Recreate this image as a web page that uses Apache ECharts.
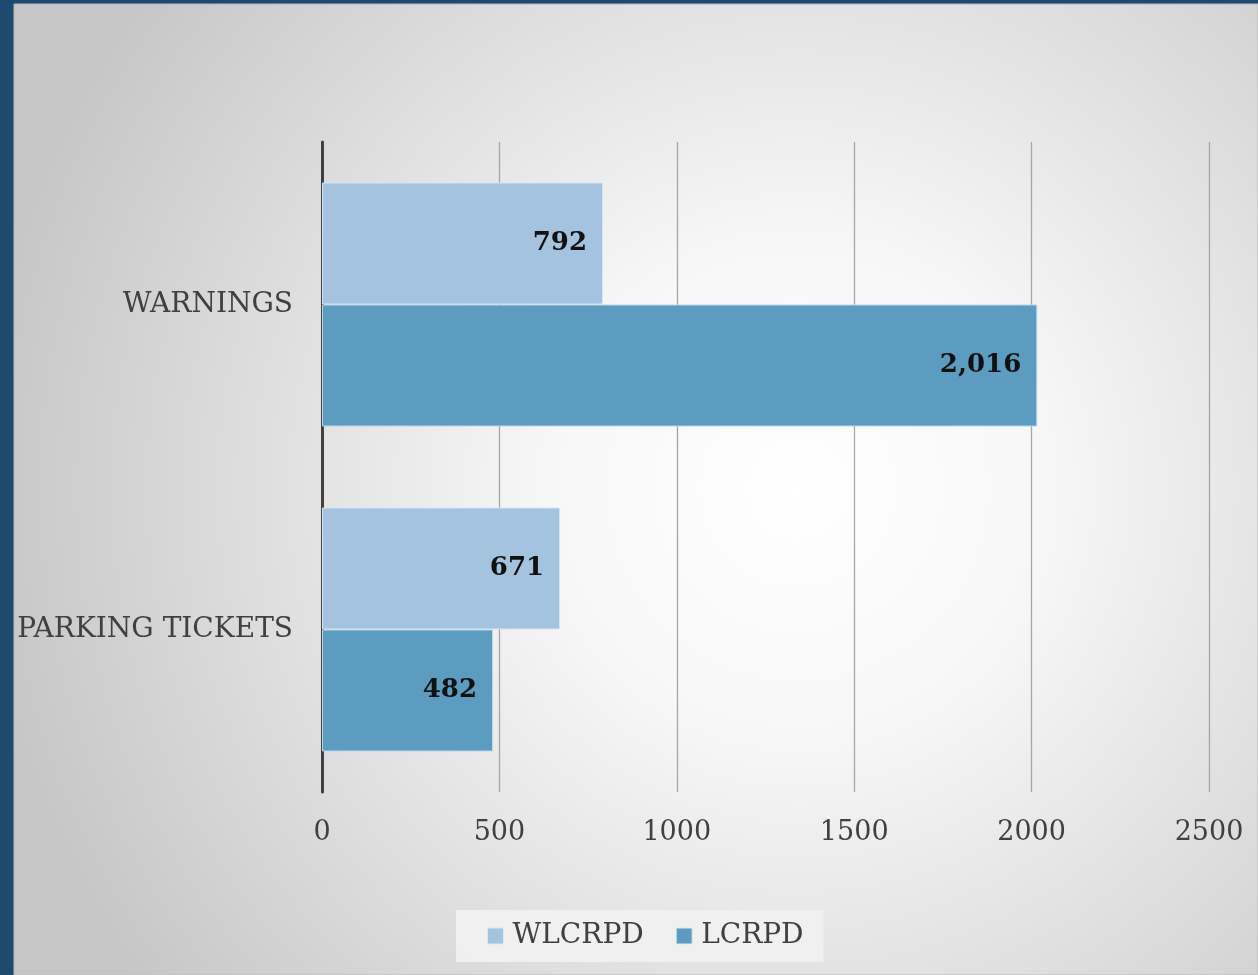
<!DOCTYPE html>
<html><head><meta charset="utf-8">
<script src="https://cdn.jsdelivr.net/npm/echarts@6/dist/echarts.min.js"></script>
<style>html,body{margin:0;padding:0;background:#1e4a70;}#c{width:1258px;height:975px;}</style>
</head><body><div id="c"></div>
<script>
const categories = ['WARNINGS', 'PARKING TICKETS'];
const seriesNames = ['WLCRPD', 'LCRPD'];
const wlcrpd = [792, 671];
const lcrpd = [2016, 482];
const xTicks = [0, 500, 1000, 1500, 2000, 2500];

const chart = echarts.init(document.getElementById('c'));
const slab = '"DejaVu Serif", "Liberation Serif", serif';
function fmt(p){ return p.value.toLocaleString('en-US'); }
chart.setOption({
  backgroundColor: '#1e4a70',
  animation: false,
  graphic: [{
    type: 'rect', z: -10, silent: true,
    shape: { x: 14, y: 4, width: 1244, height: 971 },
    style: {
      fill: { type: 'radial', x: 0.63, y: 0.5, r: 0.85,
        colorStops: [{offset: 0, color: '#ffffff'}, {offset: 0.3, color: '#f7f7f7'}, {offset: 1, color: '#c6c6c6'}] },
      stroke: '#b8b8b8', lineWidth: 1
    }
  }],
  grid: { left: 322, right: 49, top: 142, bottom: 183, containLabel: false },
  legend: {
    data: seriesNames, bottom: 13, left: 456,
    itemWidth: 16, itemHeight: 16, itemGap: 32,
    backgroundColor: 'rgba(240,240,240,0.95)', padding: [12, 20, 12, 31],
    icon: 'rect',
    itemStyle: { borderColor: '#dde9f3', borderWidth: 1 },
    textStyle: { fontFamily: slab, fontSize: 28, color: '#404040', padding: [0, 0, 0, 4] }
  },
  xAxis: {
    type: 'value', min: 0, max: 2500, interval: 500,
    axisLine: { show: false }, axisTick: { show: false },
    splitLine: { show: true, lineStyle: { color: '#a6a6a6', width: 1.3 } },
    axisLabel: { margin: 27, fontFamily: slab, fontSize: 27, color: '#404040',
      formatter: v => xTicks.includes(v) ? String(v) : '' }
  },
  yAxis: {
    type: 'category', data: categories, inverse: true,
    axisLine: { show: true, lineStyle: { color: '#404040', width: 3 } },
    axisTick: { show: false },
    axisLabel: { margin: 29, fontFamily: slab, fontSize: 28, color: '#404040' }
  },
  series: [
    { name: 'WLCRPD', type: 'bar', data: wlcrpd, barWidth: 122, barGap: '0%',
      itemStyle: { color: '#a3c3df', borderColor: '#d6e6f2', borderWidth: 1 },
      label: { show: true, position: 'insideRight', distance: 16, formatter: fmt,
        fontFamily: slab, fontWeight: 'bold', fontSize: 26, color: '#111' } },
    { name: 'LCRPD', type: 'bar', data: lcrpd, barWidth: 122,
      itemStyle: { color: '#5b9cc0', borderColor: '#bcd6e8', borderWidth: 1 },
      label: { show: true, position: 'insideRight', distance: 16, formatter: fmt,
        fontFamily: slab, fontWeight: 'bold', fontSize: 26, color: '#111' } }
  ]
});
</script></body></html>
